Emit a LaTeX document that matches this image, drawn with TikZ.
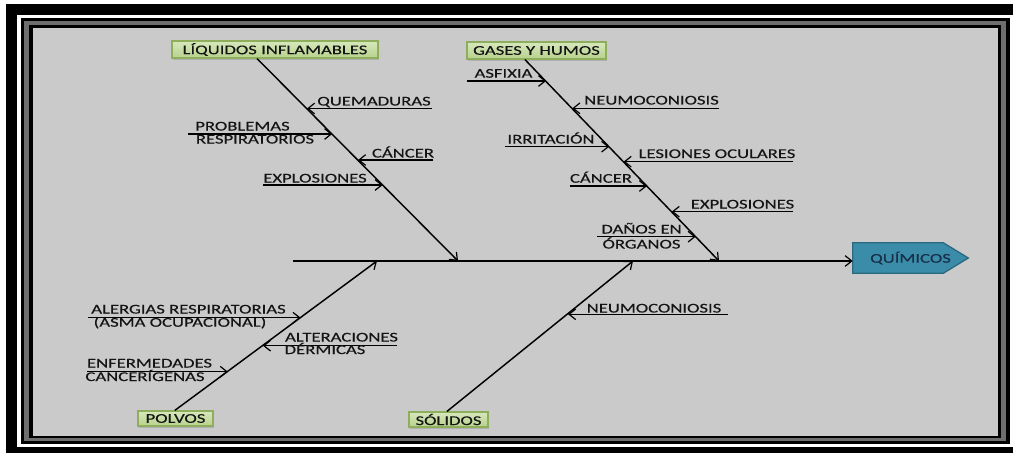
\documentclass[tikz,border=0pt]{standalone}
\usepackage{fontspec}
\setmainfont{Carlito}[FakeStretch=1.4, FakeBold=0.35]
\usetikzlibrary{arrows.meta,calc,shadows,backgrounds}

\definecolor{panelgray}{HTML}{CACACA}
\definecolor{framegray}{HTML}{6E6E6E}
\definecolor{boxtop}{HTML}{D7E8BC}
\definecolor{boxbot}{HTML}{B7D18C}
\definecolor{boxline}{HTML}{8FAE5C}
\definecolor{tealfill}{HTML}{3B8CA8}
\definecolor{tealline}{HTML}{2A6A80}
\definecolor{tealtext}{HTML}{17304A}
\definecolor{inktext}{HTML}{141414}

\tikzset{
  tip/.style={-{Straight Barb[length=5pt,width=8pt,line width=0.9pt]}},
  bone/.style={tip, line width=1.1pt},
  twig/.style={tip, line width=1pt},
  lbl/.style={anchor=base, inner sep=0pt, text=inktext,
    font=\fontsize{10}{11}\selectfont},
  catbox/.style={draw=boxline, line width=0.8pt, top color=boxtop,
    bottom color=boxbot, inner sep=0pt, text=inktext,
    font=\fontsize{10}{11}\selectfont,
    drop shadow={shadow xshift=1pt, shadow yshift=-1.5pt, opacity=0.35}},
  effect/.style={inner sep=0pt, text=tealtext,
    font=\fontsize{10}{11}\selectfont},
  effectshape/.style={fill=tealfill, draw=tealline, line width=1pt}
}

\begin{document}
\begin{tikzpicture}[x=0.75pt, y=-0.75pt]
  \useasboundingbox (0,0) rectangle (1013,453);

  % effect head: text node; its arrow-shaped plate goes underneath
  \node[effect, minimum width=86.25pt, minimum height=22.5pt] (q) at (910.5,258) {QUÍMICOS};

  \begin{scope}[on background layer]
    % frame: outer black band, white gap, double black rule, grey panel
    \fill[white] (0,0) rectangle (1013,453);
    \fill[black] (6,4) rectangle (1013,453);
    \fill[white] (17,15) rectangle (1013,447);
    \fill[black] (21,18) rectangle (1010,444);
    \fill[framegray] (24,21) rectangle (1006,441);
    \fill[black] (29,25) rectangle (1001,438);
    \fill[panelgray] (33,28) rectangle (998,436);
    % arrow-shaped plate of the effect head
    \filldraw[effectshape] (q.north west) -- ($(q.north east)+(-25,0)$)
      -- (q.east) -- ($(q.south east)+(-25,0)$) -- (q.south west) -- cycle;
  \end{scope}

  % category boxes
  \node[catbox, minimum width=154.5pt, minimum height=12.75pt] (lb) at (275,49.5) {LÍQUIDOS INFLAMABLES};
  \node[catbox, minimum width=104.25pt, minimum height=12.75pt] (gh) at (536.5,50.5) {GASES Y HUMOS};
  \node[catbox, minimum width=56.25pt, minimum height=11.25pt] (pv) at (175.5,418.5) {POLVOS};
  \node[catbox, minimum width=59.25pt, minimum height=11.25pt] (sd) at (448.5,419.5) {SÓLIDOS};

  % spine
  \coordinate (s0) at (293,261);
  \draw[bone] (s0) -- (s0 -| q.west);

  % main bones
  \coordinate (b1) at ($(lb.south west)!0.413!(lb.south east)$);
  \coordinate (b2) at ($(gh.south west)!0.417!(gh.south east)$);
  \coordinate (b3) at ($(pv.north west)!0.49!(pv.north east)$);
  \coordinate (b4) at ($(sd.north west)!0.48!(sd.north east)$);
  \coordinate (t1) at (458,261);
  \coordinate (t2) at (719,261);
  \coordinate (t3) at (377,261);
  \coordinate (t4) at (633,261);
  \draw[bone] (b1) -- (t1);
  \draw[bone] (b2) -- (t2);
  \draw[bone] (b3) -- (t3);
  \draw[bone] (b4) -- (t4);

  % causes on the first bone
  \coordinate (q1f) at (432,108.5); \coordinate (q1t) at (307,108.5);
  \coordinate (q2f) at (188,134);   \coordinate (q2t) at (332.2,134);
  \coordinate (q3f) at (433,160);   \coordinate (q3t) at (358,160);
  \coordinate (q4f) at (263,185);   \coordinate (q4t) at (382.7,185);
  \foreach \i in {1,...,4} { \draw[twig] (q\i f) -- (q\i t); }
  \node[lbl] (lq1)  at (374,105.5)   {QUEMADURAS};
  \node[lbl] (lq2a) at (242.5,130.5) {PROBLEMAS};
  \node[lbl] (lq2b) at (255,143.5)   {RESPIRATORIOS};
  \node[lbl] (lq3)  at (403,157.5)   {CÁNCER};
  \node[lbl] (lq4)  at (315,182.5)   {EXPLOSIONES};

  % causes on the second bone
  \coordinate (g1f) at (467,81);    \coordinate (g1t) at (546.1,81);
  \coordinate (g2f) at (719,108.3); \coordinate (g2t) at (572.3,108.3);
  \coordinate (g3f) at (505,146.7); \coordinate (g3t) at (609.2,146.7);
  \coordinate (g4f) at (793,161.7); \coordinate (g4t) at (623.6,161.7);
  \coordinate (g5f) at (570,186);   \coordinate (g5t) at (647,186);
  \coordinate (g6f) at (793,211.7); \coordinate (g6t) at (671.7,211.7);
  \coordinate (g7f) at (597,236.7); \coordinate (g7t) at (695.7,236.7);
  \foreach \i in {1,...,7} { \draw[twig] (g\i f) -- (g\i t); }
  \node[lbl] (lg1)  at (503.5,77.7)  {ASFIXIA};
  \node[lbl] (lg2)  at (651.5,104.5) {NEUMOCONIOSIS};
  \node[lbl] (lg3)  at (551,143.5)   {IRRITACIÓN};
  \node[lbl] (lg4)  at (717,158)     {LESIONES OCULARES};
  \node[lbl] (lg5)  at (601,182.7)   {CÁNCER};
  \node[lbl] (lg6)  at (742.5,208.5) {EXPLOSIONES};
  \node[lbl] (lg7a) at (641.5,233.5) {DAÑOS EN};
  \node[lbl] (lg7b) at (641.5,248.5) {ÓRGANOS};

  % causes on the third bone
  \coordinate (p1f) at (88,317.7);  \coordinate (p1t) at (300.6,317.7);
  \coordinate (p2f) at (397,345.7); \coordinate (p2t) at (262.9,345.7);
  \coordinate (p3f) at (87,371.7);  \coordinate (p3t) at (227.9,371.7);
  \foreach \i in {1,2,3} { \draw[twig] (p\i f) -- (p\i t); }
  \node[lbl] (lp1a) at (188.5,313.5) {ALERGIAS RESPIRATORIAS};
  \node[lbl] (lp1b) at (180,326.7)   {(ASMA OCUPACIONAL)};
  \node[lbl] (lp2a) at (341.5,341.5) {ALTERACIONES};
  \node[lbl] (lp2b) at (325,354)     {DÉRMICAS};
  \node[lbl] (lp3a) at (149.5,367.5) {ENFERMEDADES};
  \node[lbl] (lp3b) at (145,381)     {CANCERÍGENAS};

  % cause on the fourth bone
  \coordinate (s1f) at (728,314.3); \coordinate (s1t) at (568.1,314.3);
  \draw[twig] (s1f) -- (s1t);
  \node[lbl] (ls1) at (654,312.5) {NEUMOCONIOSIS};
\end{tikzpicture}
\end{document}
